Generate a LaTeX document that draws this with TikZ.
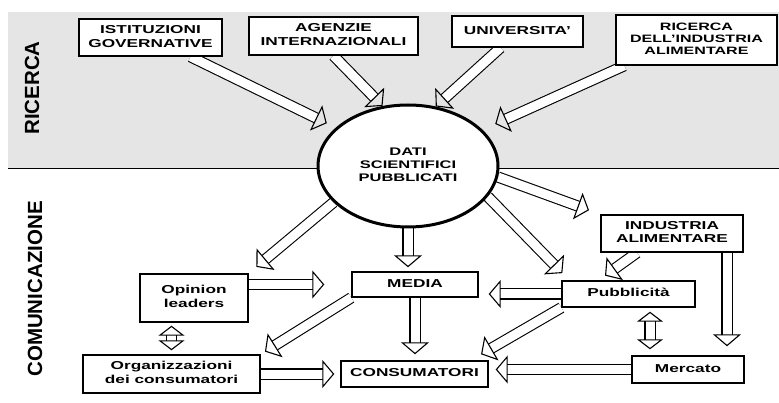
\documentclass[tikz,border=0pt]{standalone}
\usepackage{fontspec}
\usepackage{graphicx}
\setmainfont{Liberation Sans}
\newcommand\stretchtext[1]{\scalebox{1.5}[1]{\begin{tabular}{@{}c@{}}#1\end{tabular}}}
\usetikzlibrary{positioning, shapes.geometric, arrows.meta, backgrounds}
\pgfdeclarelayer{band}
\pgfsetlayers{band,background,main}

\begin{document}
\begin{tikzpicture}[
    x=1pt, y=-1pt,
    every node/.style={font=\bfseries\fontsize{11.5}{13.5}\selectfont},
    box/.style={draw, fill=white, line width=1.4pt, inner sep=2pt},
    fat/.style={double=white, double distance=9pt, line width=1.1pt, -{Triangle[open, length=12pt, width=28pt]}},
    fatboth/.style={fat, {Triangle[open, length=10pt, width=26pt]}-{Triangle[open, length=10pt, width=26pt]}},
    side/.style={rotate=90, font=\bfseries\fontsize{20.5}{20.5}\selectfont}
]
\useasboundingbox (0,0) rectangle (779,403);

% Band
\begin{pgfonlayer}{band}
\fill[black!10] (8,12) rectangle (779,168);
\draw (8,168) -- (779,168);
\end{pgfonlayer}

\node[side] (ricerca) at (32,88) {RICERCA};
\node[side] (comunicazione) at (35,289) {COMUNICAZIONE};

% Sources
\node[box, minimum width=143pt, minimum height=37pt, font=\bfseries\fontsize{11.5}{14}\selectfont] (ist) at (150.5,37.5) {\stretchtext{ISTITUZIONI\\GOVERNATIVE}};
\node[box, minimum width=169pt, minimum height=38pt, font=\bfseries\fontsize{11.5}{14}\selectfont] (agen) at (333.5,36) {\stretchtext{AGENZIE\\INTERNAZIONALI}};
\node[box, minimum width=131pt, minimum height=31pt] (univ) at (517.5,31.5) {\stretchtext{UNIVERSITA'}};
\node[box, minimum width=161pt, minimum height=50pt, font=\bfseries\fontsize{10.7}{12}\selectfont] (ric) at (696.5,40) {\stretchtext{RICERCA\\DELL'INDUSTRIA\\ALIMENTARE}};

\node[ellipse, draw, fill=white, line width=3pt, minimum width=180pt, minimum height=122pt, font=\bfseries\fontsize{11}{13.3}\selectfont] (dati) at (408,166) {\stretchtext{DATI\\SCIENTIFICI\\PUBBLICATI}};

% Communication
\node[box, minimum width=108pt, minimum height=48pt] (opin) at (194,298) {\stretchtext{Opinion\\leaders}};
\node[box, minimum width=177pt, minimum height=38pt] (org) at (171.5,374) {\stretchtext{Organizzazioni\\dei consumatori}};
\node[box, minimum width=126pt, minimum height=25pt] (media) at (415,284.5) {\stretchtext{MEDIA}};
\node[box, minimum width=147pt, minimum height=26pt] (cons) at (414.5,374) {\stretchtext{CONSUMATORI}};
\node[box, minimum width=142pt, minimum height=37pt] (ind) at (672,233.5) {\stretchtext{INDUSTRIA\\ALIMENTARE}};
\node[box, minimum width=133pt, minimum height=26pt] (pubb) at (628.5,294) {\stretchtext{Pubblicità}};
\node[box, minimum width=112pt, minimum height=27pt] (merc) at (688,369.5) {\stretchtext{Mercato}};

% Arrows
\begin{scope}[on background layer]
\draw[fat, shorten >=10pt] ([xshift=40pt]ist.south) -- (dati.152);
\draw[fat] (agen.south) -- (dati.113);
\draw[fat] ([xshift=-17pt]univ.south) -- (dati.65);
\draw[fat, shorten >=14pt] ([xshift=9pt]ric.south west) -- (dati.26);

\draw[fat, shorten >=10pt] (dati.206) -- (opin.north east);
\draw[fat, shorten >=4pt] (dati.south) -- (dati.south |- media.north);
\draw[fat, shorten >=10pt] (dati.-21) -- ([xshift=8pt]pubb.north west);
\draw[fat, shorten >=12pt] (dati.-7) -- (ind.north west);

\draw[fat, shorten >=27pt] (opin.east |- media.west) -- (media.west);
\draw[fatboth, shorten <=4pt, shorten >=3pt] (org.north) -- (org.north |- opin.south);
\draw[fat, shorten >=5pt] (media.south west) -- (org.north east);
\draw[fat, shorten >=6pt] (media.south) -- (media.south |- cons.north);
\draw[fat, shorten >=6pt] (org.east) -- (org.east -| cons.west);

\draw[fat, shorten >=10pt] (pubb.west) -- (pubb.west -| media.east);
\draw[fat, shorten >=12pt] (pubb.south west) -- ([xshift=-18pt]cons.north east);
\draw[fat, shorten >=8pt] ([xshift=-35pt]ind.south) -- ([xshift=-30pt]pubb.north);
\draw[fat, shorten >=9pt] ([xshift=55pt]ind.south) -- ([xshift=55pt]ind.south |- merc.north);
\draw[fatboth, shorten <=6pt, shorten >=4pt] ([xshift=-38pt]merc.north) -- ([xshift=-38pt]merc.north |- pubb.south);
\draw[fat, shorten >=7pt] (merc.west) -- (merc.west -| cons.east);
\end{scope}

\end{tikzpicture}
\end{document}
